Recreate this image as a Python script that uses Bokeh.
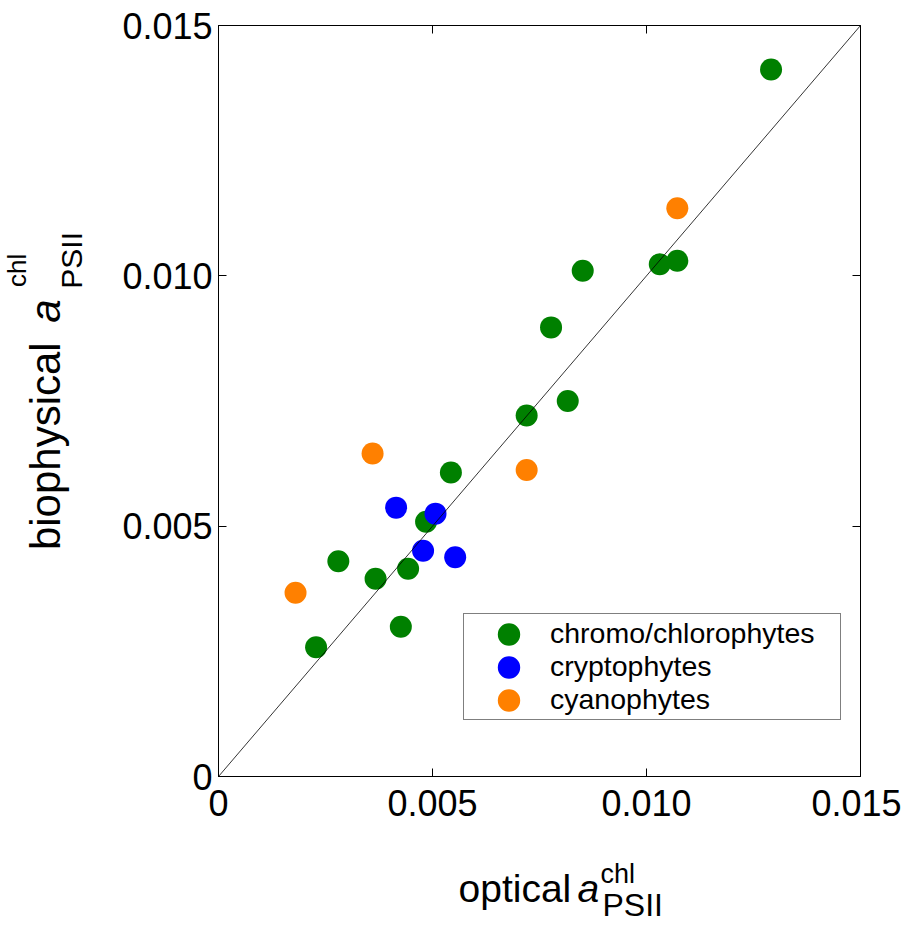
import math
from bokeh.plotting import figure
from bokeh.layouts import row, column
from bokeh.models import (Range1d, LinearAxis, FixedTicker, CustomJSTickFormatter,
                          Slope, Label, Legend)
from bokeh.embed import file_html
from bokeh.resources import INLINE

# ---- data ----
green_x = [0.00228, 0.0028, 0.00367, 0.00426, 0.00443, 0.00485, 0.00543, 0.0072,
           0.00777, 0.00816, 0.00851, 0.01031, 0.01072, 0.01291]
green_y = [0.00258, 0.0043, 0.00395, 0.00299, 0.00415, 0.00509, 0.00607, 0.00721,
           0.00897, 0.0075, 0.0101, 0.01023, 0.0103, 0.01412]
blue_x = [0.00415, 0.00478, 0.00507, 0.00553]
blue_y = [0.00537, 0.00451, 0.00525, 0.00438]
orange_x = [0.0018, 0.0036, 0.0072, 0.01072]
orange_y = [0.00367, 0.00645, 0.00612, 0.01135]
series_names = ["chromo/chlorophytes", "cryptophytes", "cyanophytes"]
ticks = [0, 0.005, 0.010, 0.015]
axis_min, axis_max = 0.0, 0.015

FONT = "Liberation Sans"

# layout sizes (px)
LEFT_W = 110          # strip holding the y-axis title
MAIN_W, MAIN_H = 791, 836
BOTTOM_H = 85         # strip holding the x-axis title
TOTAL_W = LEFT_W + MAIN_W

p = figure(width=MAIN_W, height=MAIN_H, output_backend="svg", toolbar_location=None,
           x_range=Range1d(axis_min, axis_max), y_range=Range1d(axis_min, axis_max),
           min_border_left=108, min_border_right=41, min_border_top=25, min_border_bottom=60,
           background_fill_color="white", border_fill_color="white")
p.grid.visible = False
p.outline_line_color = "black"
p.outline_line_width = 1

fmt = CustomJSTickFormatter(code="return tick == 0 ? '0' : tick.toFixed(3);")
blank = CustomJSTickFormatter(code="return '';")

for ax in (p.xaxis[0], p.yaxis[0]):
    ax.ticker = FixedTicker(ticks=ticks)
    ax.formatter = fmt
    ax.major_tick_in = 8
    ax.major_tick_out = 0
    ax.minor_tick_line_color = None
    ax.major_label_text_font = FONT
    ax.major_label_text_font_size = "36px"
    ax.major_label_text_color = "black"
    ax.axis_line_color = "black"
    ax.major_tick_line_color = "black"
    ax.axis_label = None
p.yaxis[0].major_label_standoff = 6
p.xaxis[0].major_label_standoff = 13

for side in ("right", "above"):
    ax = LinearAxis(ticker=FixedTicker(ticks=ticks), formatter=blank,
                    major_tick_in=8, major_tick_out=0, minor_tick_line_color=None,
                    axis_line_color=None, major_label_standoff=0,
                    major_label_text_font_size="1px")
    p.add_layout(ax, side)

# 1:1 line
p.add_layout(Slope(gradient=1, y_intercept=0, line_color="black", line_width=0.8))

r_g = p.ellipse(green_x, green_y, width=22, height=22, width_units="screen",
                height_units="screen", fill_color="#008000", line_color=None)
r_b = p.ellipse(blue_x, blue_y, width=22, height=22, width_units="screen",
                height_units="screen", fill_color="#0000FF", line_color=None)
r_o = p.ellipse(orange_x, orange_y, width=22, height=22, width_units="screen",
                height_units="screen", fill_color="#FF8000", line_color=None)

legend = Legend(items=[(series_names[0], [r_g]), (series_names[1], [r_b]),
                       (series_names[2], [r_o])],
                location=(245, 56), glyph_width=83, glyph_height=28, label_height=33,
                label_width=287, spacing=0, padding=3, label_standoff=0, margin=0,
                label_text_font=FONT, label_text_font_size="28.5px",
                label_text_color="black",
                border_line_color="black", border_line_width=1,
                background_fill_color="white", background_fill_alpha=1)
p.add_layout(legend, "center")


def strip(w, h):
    f = figure(width=w, height=h, output_backend="svg", toolbar_location=None,
               x_range=Range1d(0, w), y_range=Range1d(0, h),
               x_axis_type=None, y_axis_type=None, min_border=0,
               min_border_left=0, min_border_right=0, min_border_top=0, min_border_bottom=0,
               background_fill_color="white", border_fill_color="white")
    f.grid.visible = False
    f.outline_line_color = None
    return f


def lab(f, text, x, y, size, style="normal", angle=0.0):
    f.add_layout(Label(x=x, y=y, text=text, text_font=FONT, text_font_size=size,
                       text_font_style=style, text_color="black", text_align="left",
                       text_baseline="alphabetic", angle=angle))


# y-axis title strip (coordinates: px from left, px from bottom of the strip)
left = strip(LEFT_W, MAIN_H)
A = math.pi / 2
lab(left, "biophysical", 45, 252, "42px", angle=A)
lab(left, "a", 45, 505, "42px", "italic", angle=A)
lab(left, "chl", 16, 545, "26px", angle=A)
lab(left, "PSII", 71, 543, "30px", angle=A)

# x-axis title strip
bottom = strip(TOTAL_W, BOTTOM_H)
lab(bottom, "optical", 458, 33, "39px")
lab(bottom, "a", 577, 33, "39px", "italic")
lab(bottom, "chl", 600, 48, "27px")
lab(bottom, "PSII", 602, 17, "32px")

layout = column(row(left, p, spacing=0), bottom, spacing=0)

open("out.html", "w").write(file_html(layout, INLINE))
